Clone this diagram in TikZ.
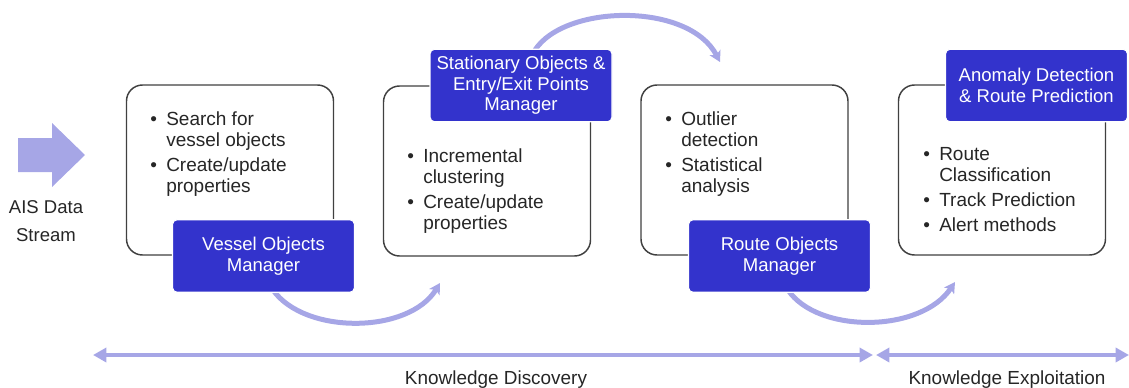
\documentclass[tikz,border=0pt]{standalone}
\usepackage{fontspec}
\setmainfont{Liberation Sans}
\usetikzlibrary{arrows.meta}
\definecolor{mgrblue}{RGB}{51,51,204}
\definecolor{flowlav}{RGB}{166,166,230}
\definecolor{framegray}{RGB}{64,64,64}
\definecolor{bodytext}{RGB}{38,38,38}

% bullet list set as a two-column tabular, first row on the baseline
\newcommand\bulletlist[1]{\begin{tabular}[t]{@{}p{12pt}@{}l@{}}#1\end{tabular}}
\newcommand\bul{\textbullet}

\begin{document}
\begin{tikzpicture}[x=0.75pt,y=-0.75pt,
  stage/.style={draw=framegray, line width=1.1pt, rounded corners=12pt, fill=white,
    minimum width=155.25pt, minimum height=127.5pt, inner sep=0pt},
  mgr/.style={fill=mgrblue, draw=white, line width=0.8pt, rounded corners=3.5pt,
    text=white, align=center, font=\fontsize{13.9}{15.4}\selectfont,
    minimum width=136.5pt, minimum height=54.4pt, inner sep=0pt},
  items/.style={anchor=base west, inner sep=0pt, text=bodytext,
    font=\fontsize{14.25}{15.75}\selectfont},
  flow/.style={draw=flowlav, line width=3.75pt,
    -{Stealth[length=8pt,width=9pt,inset=2pt]}},
  span/.style={draw=flowlav, line width=3pt,
    {Triangle[length=10pt,width=10.5pt]}-{Triangle[length=10pt,width=10.5pt]}},
  lbl/.style={font=\fontsize{14.2}{16}\selectfont, text=bodytext, inner sep=0pt},
]
\useasboundingbox (0,0) rectangle (1129,387);

% incoming data stream
\fill[flowlav] (18,138) -- (52,138) -- (52,123) -- (85,155) -- (52,187)
  -- (52,172) -- (18,172) -- cycle;
\node[align=center, text=bodytext, inner sep=0pt,
  font=\fontsize{13.9}{21.5}\selectfont] (ais) at (46,221) {AIS Data\\Stream};

% processing stages
\node[stage] (s1) at (230,170) {};
\node[stage] (s2) at (487,171) {};
\node[stage] (s3) at (744.5,170) {};
\node[stage] (s4) at (1002,170) {};

% flow between stages
\coordinate (f1a) at (273,290);
\coordinate (f1b) at (440,283);
\coordinate (f2a) at (535,50);
\coordinate (f2b) at (720,62);
\coordinate (f3a) at (788,290);
\coordinate (f3b) at (955,282);
\draw[flow] (f1a) .. controls (305,335) and (409,334) .. (f1b);
\draw[flow] (f2a) .. controls (565,4) and (689,2) .. (f2b);
\draw[flow] (f3a) .. controls (818,334) and (921,333) .. (f3b);

% managers
\node[mgr] (m1) at (263.5,256) {Vessel Objects\\Manager};
\node[mgr] (m2) at (521,85.5) {Stationary Objects \&\\Entry/Exit Points\\Manager};
\node[mgr] (m3) at (779.5,256) {Route Objects\\Manager};
\node[mgr] (m4) at (1036.5,85.5) {Anomaly Detection\\\& Route Prediction};

% stage contents
\node[items] (t1) at (150,125) {\bulletlist{%
  \bul & Search for\\ & vessel objects\\[3pt]
  \bul & Create/update\\ & properties}};
\node[items] (t2) at (407,162) {\bulletlist{%
  \bul & Incremental\\ & clustering\\[3pt]
  \bul & Create/update\\ & properties}};
\node[items] (t3) at (665,125) {\bulletlist{%
  \bul & Outlier\\ & detection\\[3pt]
  \bul & Statistical\\ & analysis}};
\node[items] (t4) at (923,160) {\bulletlist{%
  \bul & Route\\ & Classification\\[3pt]
  \bul & Track Prediction\\[3pt]
  \bul & Alert methods}};

% knowledge phases
\coordinate (k0) at (93,355);
\coordinate (k1) at (873,355);
\coordinate (k2) at (876,355);
\coordinate (k3) at (1129,355);
\draw[span] (k0) -- (k1);
\draw[span] (k2) -- (k3);
\node[lbl, anchor=base] (kd) at (496,384) {Knowledge Discovery};
\node[lbl, anchor=base] (ke) at (1007,384) {Knowledge Exploitation};
\end{tikzpicture}
\end{document}
